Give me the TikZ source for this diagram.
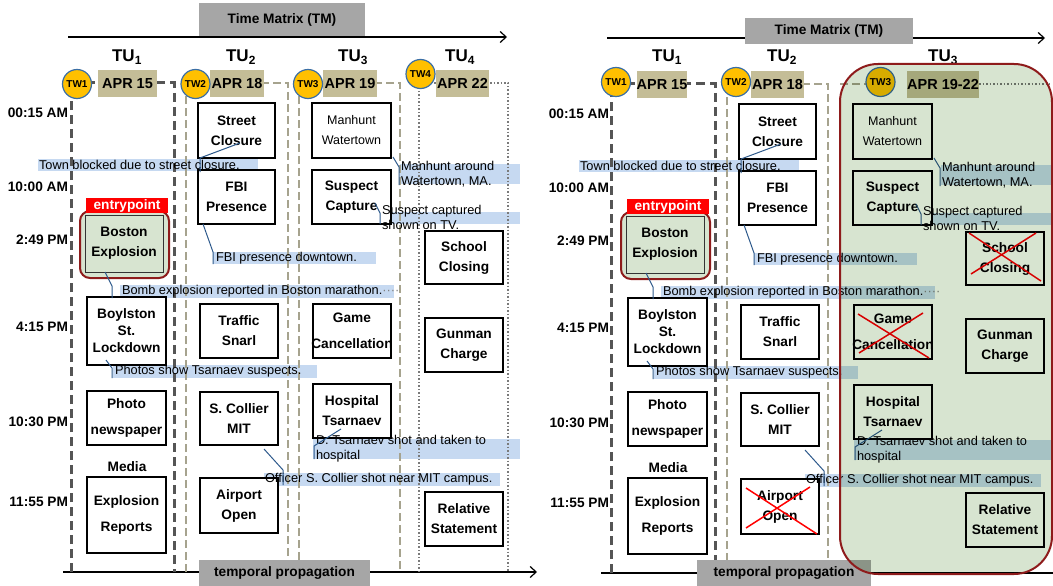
\documentclass[tikz,border=0pt]{standalone}
\usepackage{fontspec}
\setmainfont{Liberation Sans}
\usetikzlibrary{arrows.meta,calc}

\definecolor{aprcol}{HTML}{C4BD97}
\definecolor{twgold}{HTML}{FFC000}
\definecolor{twedge}{HTML}{3A6EA5}
\definecolor{bandblue}{HTML}{C6D9F1}
\definecolor{callblue}{HTML}{2E5A8C}
\definecolor{regiongreen}{HTML}{D7E4D0}
\definecolor{boxgreen}{HTML}{D7E4D0}
\definecolor{darkred}{HTML}{8E1B1B}
\definecolor{colone}{HTML}{555555}
\definecolor{coltwo}{HTML}{A6A38E}
\definecolor{colfour}{HTML}{7A7A7A}
\definecolor{tmgray}{HTML}{A6A6A6}
\definecolor{entryred}{HTML}{FF0000}

\newcommand\myfb{\fontsize{13.7}{20}\selectfont\bfseries}
\newcommand\myfbs{\fontsize{13.7}{17}\selectfont\bfseries}
\newcommand\myfbw{\fontsize{13.7}{26.5}\selectfont\bfseries}
\newcommand\myfnb{\fontsize{12.5}{20}\selectfont}
\newcommand\myfn{\fontsize{12.8}{15}\selectfont}
\newcommand\myftw{\fontsize{10}{10}\selectfont\bfseries}
\newcommand\myfapr{\fontsize{14.5}{16}\selectfont\bfseries}
\newcommand\myftu{\fontsize{17}{18}\selectfont\bfseries}

\tikzset{
  every node/.style={inner sep=0pt, outer sep=0pt},
  box/.style={draw=black, line width=1.3pt, fill=white, minimum width=78pt, minimum height=54pt, align=center, font=\myfb},
  tlabel/.style={anchor=east, font=\myfb},
  bandbox/.style={fill=bandblue, anchor=north west},
  bandtext/.style={anchor=west, align=left, font=\myfn},
  callout/.style={draw=callblue, line width=1pt},
  twc/.style={circle, draw=twedge, line width=1.2pt, fill=twgold, minimum size=29pt, font=\myftw},
  apr/.style={fill=aprcol, minimum height=27pt, font=\myfapr},
  colA/.style={draw=colone, line width=3pt, dash pattern=on 9pt off 5pt},
  colB/.style={draw=coltwo, line width=2.5pt, dash pattern=on 8pt off 4pt},
  colC/.style={draw=colfour, line width=1.5pt, dash pattern=on 1.5pt off 2pt},
  axis/.style={draw=black, line width=1.2pt, -{Straight Barb[length=6pt,width=11pt]}},
  axisline/.style={draw=black, line width=1.2pt},
  graybox/.style={fill=tmgray, font=\myfb},
  tulabel/.style={font=\myftu},
  entry/.style={fill=entryred, text=white, font=\myfb, minimum width=82pt, minimum height=15pt},
  crossline/.style={draw=red, line width=1.5pt},
}

\newcommand\panelbands[1]{%
  \node[bandbox,minimum width=220pt,minimum height=12pt] (#1b1) at (38,159) {};
  \node[bandbox,minimum width=120pt,minimum height=20pt] (#1b2) at (400,164) {};
  \node[bandbox,minimum width=140pt,minimum height=12pt] (#1b3) at (380,212) {};
  \node[bandbox,minimum width=163pt,minimum height=12pt] (#1b4) at (213,252) {};
  \node[bandbox,minimum width=274pt,minimum height=13pt] (#1b5) at (120,285) {};
  \node[bandbox,minimum width=204pt,minimum height=13pt] (#1b6) at (113,365) {};
  \node[bandbox,minimum width=207pt,minimum height=20pt] (#1b7) at (313,439) {};
  \node[bandbox,minimum width=236pt,minimum height=13pt] (#1b8) at (264,473) {};
}

\newcommand\panelcontent[1]{%
  % time labels
  \node[tlabel] (#1t1) at (68,113) {00:15 AM};
  \node[tlabel] (#1t2) at (68,187) {10:00 AM};
  \node[tlabel] (#1t3) at (68,240) {2:49 PM};
  \node[tlabel] (#1t4) at (68,327) {4:15 PM};
  \node[tlabel] (#1t5) at (68,422) {10:30 PM};
  \node[tlabel] (#1t6) at (68,502) {11:55 PM};
  % TU1
  \node[draw=darkred, line width=2pt, rounded corners=10pt, fill=boxgreen, minimum width=89pt, minimum height=67pt] (#1beo) at (124.5,244.5) {};
  \node[box, fill=boxgreen, draw=black!80, line width=1pt, minimum width=78pt, minimum height=57pt] (#1be) at (124,243.5) {Boston\\Explosion};
  \node[entry] (#1ep) at (127,205.5) {entrypoint};
  \node[box, minimum width=79pt, minimum height=68pt, font=\myfbs] (#1bl) at (126.5,331) {Boylston\\St.\\Lockdown};
  \node[box, minimum width=79pt, minimum height=54pt, font=\myfbw] (#1ph) at (126.5,418) {Photo\\newspaper};
  \node[font=\myfb] (#1me) at (127,467) {Media};
  \node[box, minimum width=79pt, minimum height=76pt, font=\myfbw] (#1er) at (126.5,515) {Explosion\\Reports};
  % TU2
  \node[box, minimum width=77pt, minimum height=55pt] (#1sc) at (236.5,130.5) {Street\\Closure};
  \node[box, minimum width=77pt, minimum height=54pt] (#1fb) at (236.5,197) {FBI\\Presence};
  \node[box] (#1ts) at (239,331) {Traffic\\Snarl};
  \node[box, minimum height=53pt] (#1co) at (239,418.5) {S. Collier\\MIT};
  \node[box, minimum height=55pt] (#1ao) at (239,505.5) {Airport\\Open};
  % TU3
  \node[box, minimum width=79pt, minimum height=55pt, font=\myfnb] (#1mw) at (351.5,130.5) {Manhunt\\Watertown};
  \node[box, minimum width=79pt] (#1cap) at (351.5,197) {Suspect\\Capture};
  \node[box, font=\myfbw] (#1gc) at (352,331) {Game\\\makebox[78pt][c]{Cancellation}};
  \node[box] (#1ho) at (352,411) {Hospital\\Tsarnaev};
  % TU4
  \node[box, minimum height=53pt] (#1scl) at (464,257.5) {School\\Closing};
  \node[box] (#1gu) at (464,345) {Gunman\\Charge};
  \node[box] (#1rs) at (464,519) {Relative\\Statement};
  % band texts
  \node[bandtext] (#1x1) at (39,165) {Town blocked due to street closure.};
  \node[bandtext] (#1x2) at (401,174.5) {Manhunt around\\Watertown, MA.};
  \node[bandtext] (#1x3) at (382,217.5) {Suspect captured\\shown on TV.};
  \node[bandtext] (#1x4) at (216,258) {FBI presence downtown.};
  \node[bandtext] (#1x5) at (122,291.5) {Bomb explosion reported in Boston marathon.{\color{gray}····}};
  \node[bandtext] (#1x6) at (115,371.5) {Photos show Tsarnaev suspects.};
  \node[bandtext] (#1x7) at (316,448.5) {D. Tsarnaev shot and taken to\\hospital};
  \node[bandtext] (#1x8) at (265,479.5) {Officer S. Collier shot near MIT campus.};
  % callouts
  \coordinate (#1c1a) at (240,143); \coordinate (#1c1b) at (200,158); \coordinate (#1c1c) at (200,172);
  \draw[callout] (#1c1a) -- (#1c1b) -- (#1c1c);
  \coordinate (#1c2a) at (393,157); \coordinate (#1c2b) at (399,167); \coordinate (#1c2c) at (399,185);
  \draw[callout] (#1c2a) -- (#1c2b) -- (#1c2c);
  \coordinate (#1c3a) at (375,203); \coordinate (#1c3b) at (380,213); \coordinate (#1c3c) at (380,224);
  \draw[callout] (#1c3a) -- (#1c3b) -- (#1c3c);
  \coordinate (#1c4a) at (203,224); \coordinate (#1c4b) at (213,252); \coordinate (#1c4c) at (213,264);
  \draw[callout] (#1c4a) -- (#1c4b) -- (#1c4c);
  \coordinate (#1c5a) at (105,272); \coordinate (#1c5b) at (112,286); \coordinate (#1c5c) at (112,298);
  \draw[callout] (#1c5a) -- (#1c5b) -- (#1c5c);
  \coordinate (#1c6a) at (106,360); \coordinate (#1c6b) at (112,368); \coordinate (#1c6c) at (112,378);
  \draw[callout] (#1c6a) -- (#1c6b) -- (#1c6c);
  \coordinate (#1c7a) at (341,429); \coordinate (#1c7b) at (314,446); \coordinate (#1c7c) at (314,459);
  \draw[callout] (#1c7a) -- (#1c7b) -- (#1c7c);
  \coordinate (#1c8a) at (264,449); \coordinate (#1c8b) at (283,470); \coordinate (#1c8c) at (283,485);
  \draw[callout] (#1c8a) -- (#1c8b) -- (#1c8c);
}

\begin{document}
\begin{tikzpicture}[x=1pt, y=-1pt]
\useasboundingbox (0,0) rectangle (1053,586);

% ================= LEFT PANEL =================
\coordinate (Lax0) at (68,37); \coordinate (Lax1) at (507,37);
\draw[axis] (Lax0) -- (Lax1);
\node[graybox, minimum width=166pt, minimum height=33pt] (Ltm) at (282,19.5) {Time Matrix (TM)};
\coordinate (Lbx0) at (63,572); \coordinate (Lbx1) at (537,572);
\draw[axis] (Lbx0) -- (Lbx1);

\panelbands{L}

\draw[colA] (71,572) -- (71,83) -- (174,83) -- (174,572);
\draw[colB] (186,572) -- (186,83) -- (288,83) -- (288,572);
\draw[colB] (299,572) -- (299,83) -- (400,83) -- (400,572);
\draw[colC] (419,572) -- (419,83) -- (508,83) -- (508,572);

\panelcontent{L}

\node[graybox, minimum width=171pt, minimum height=26pt] (Ltp) at (284.5,573) {temporal propagation};

\node[tulabel] (Ltu1) at (127,57) {TU\textsubscript{1}};
\node[tulabel] (Ltu2) at (241,57) {TU\textsubscript{2}};
\node[tulabel] (Ltu3) at (353,57) {TU\textsubscript{3}};
\node[tulabel] (Ltu4) at (460,57) {TU\textsubscript{4}};

\node[apr, minimum width=59pt] (Lapr1) at (127.5,83.5) {APR 15};
\node[apr, minimum width=54pt] (Lapr2) at (237,83.5) {APR 18};
\node[apr, minimum width=54pt] (Lapr3) at (350,83.5) {APR 19};
\node[apr, minimum width=53pt] (Lapr4) at (462.5,83.5) {APR 22};
\node[twc] (Ltw1) at (77,84) {TW1};
\node[twc] (Ltw2) at (195.5,84) {TW2};
\node[twc] (Ltw3) at (308,84) {TW3};
\node[twc] (Ltw4) at (420.5,74) {TW4};

% ================= RIGHT PANEL =================
\coordinate (Rax0) at (607,38); \coordinate (Rax1) at (1045,38);
\draw[axis] (Rax0) -- (Rax1);
\node[graybox, minimum width=168pt, minimum height=26pt] (Rtm) at (829,31) {Time Matrix (TM)};
\coordinate (Rbx0) at (601,573); \coordinate (Rbx1) at (1060,573);
\draw[axisline] (Rbx0) -- (Rbx1);

\begin{scope}[xshift=541pt, yshift=-1pt]
\panelbands{R}
\end{scope}

\draw[colA] (611,573) -- (611,84) -- (715,84) -- (715,573);
\draw[colB] (727,573) -- (727,84) -- (828,84) -- (828,573);
\draw[colB] (840,84) -- (880,84);
\draw[colC] (979,84) -- (1050,84);

\begin{scope}[xshift=541pt, yshift=-1pt]
\panelcontent{R}
\end{scope}

\node[graybox, minimum width=174pt, minimum height=26pt] (Rtp) at (784,573) {temporal propagation};

\node[tulabel] (Rtu1) at (667,57) {TU\textsubscript{1}};
\node[tulabel] (Rtu2) at (782,57) {TU\textsubscript{2}};
\node[tulabel] (Rtu3) at (943,57) {TU\textsubscript{3}};

\node[apr, minimum width=50pt] (Rapr1) at (662,85) {APR 15};
\node[apr, minimum width=53pt] (Rapr2) at (777.5,85) {APR 18};
\node[apr, minimum width=72pt] (Rapr3) at (943,85) {APR 19-22};
\node[twc] (Rtw1) at (616,82) {TW1};
\node[twc] (Rtw2) at (736,82) {TW2};
\node[twc] (Rtw3) at (880.5,82) {TW3};

% crosses
\draw[crossline] ($(Rgc.north west)+(4,9)$) -- ($(Rgc.south east)+(-3,-1)$);
\draw[crossline] ($(Rgc.south west)+(5,-6)$) -- ($(Rgc.north east)+(-9,8)$);
\draw[crossline] ($(Rscl.north west)+(3,1)$) -- ($(Rscl.south east)+(-3,-4)$);
\draw[crossline] ($(Rscl.south west)+(5,-11)$) -- ($(Rscl.north east)+(-8,1)$);
\draw[crossline] ($(Rao.north west)+(5,9)$) -- ($(Rao.south east)+(-2,0)$);
\draw[crossline] ($(Rao.south west)+(5,-6)$) -- ($(Rao.north east)+(-9,8)$);

% TU3 merged region (multiply overlay)
\path[fill=regiongreen, blend mode=multiply, rounded corners=38pt] (840,64) rectangle (1052,574);
\draw[darkred, line width=2pt, rounded corners=38pt] (840,64) rectangle (1052,574);

\end{tikzpicture}
\end{document}
